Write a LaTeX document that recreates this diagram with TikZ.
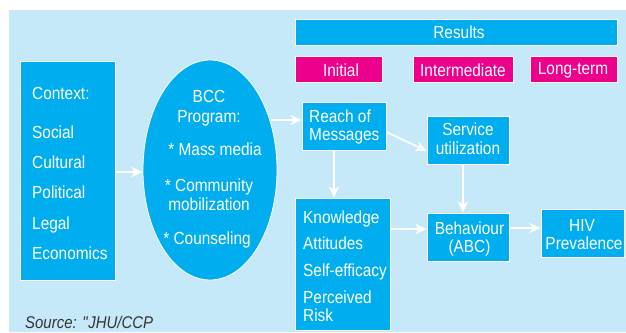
\documentclass[tikz,border=0pt]{standalone}
\usepackage{fontspec}
\setmainfont{Liberation Sans}[FakeStretch=0.88]
\usetikzlibrary{arrows.meta,shapes.geometric}
\definecolor{bgblue}{HTML}{C6E9F9}
\definecolor{boxcyan}{HTML}{00AEEF}
\definecolor{boxmag}{HTML}{EC008C}
\definecolor{srcgray}{HTML}{333333}
\begin{document}
\begin{tikzpicture}[x=1pt,y=-1pt,
  bx/.style={draw=white,line width=0.8pt,fill=boxcyan,inner sep=0pt},
  mg/.style={draw=white,line width=0.8pt,fill=boxmag,inner sep=0pt},
  lbl/.style={text=white,inner sep=0pt,font=\fontsize{17.5}{20}\selectfont},
  arr/.style={draw=white,line width=1.8pt,-{Stealth[length=11pt,width=10pt,inset=3pt]}}]
\useasboundingbox (0,0) rectangle (626,332);
\fill[bgblue] (9,10) rectangle (626,332);
% boxes
\node[bx,minimum width=95pt,minimum height=219pt] (ctx) at (67.5,170.5) {};
\node[bx,ellipse,minimum width=134pt,minimum height=220pt] (bcc) at (210,170) {};
\node[bx,minimum width=322pt,minimum height=26pt] (res) at (456,32) {};
\node[mg,minimum width=87pt,minimum height=26pt] (ini) at (338.5,69) {};
\node[mg,minimum width=100pt,minimum height=26pt] (mid) at (463,69) {};
\node[mg,minimum width=87pt,minimum height=26pt] (lng) at (573.5,69) {};
\node[bx,minimum width=84pt,minimum height=48pt] (reach) at (344,126) {};
\node[bx,minimum width=82pt,minimum height=48pt] (svc) at (468,140) {};
\node[bx,minimum width=95pt,minimum height=132pt] (know) at (342.5,264) {};
\node[bx,minimum width=82pt,minimum height=48pt] (beh) at (468,237) {};
\node[bx,minimum width=83pt,minimum height=48pt] (hiv) at (582.5,233) {};
% texts: context
\node[lbl,anchor=base west] (t1) at (32,99) {Context:};
\node[lbl,anchor=base west] (t2) at (32,138) {Social};
\node[lbl,anchor=base west] (t3) at (32,168) {Cultural};
\node[lbl,anchor=base west] (t4) at (32,198) {Political};
\node[lbl,anchor=base west] (t5) at (32,229) {Legal};
\node[lbl,anchor=base west] (t6) at (32,259) {Economics};
% BCC
\node[lbl,anchor=base] (b1) at (209,102) {BCC};
\node[lbl,anchor=base] (b2) at (209,122) {Program:};
\node[lbl,anchor=base] (b3) at (215,155) {* Mass media};
\node[lbl,anchor=base] (b4) at (209,191) {* Community};
\node[lbl,anchor=base] (b5) at (209,210) {mobilization};
\node[lbl,anchor=base] (b6) at (207,244) {* Counseling};
% results row
\node[lbl,anchor=base] (r1) at (459,38) {Results};
\node[lbl,anchor=base] (r2) at (341,76) {Initial};
\node[lbl,anchor=base] (r3) at (463,76) {Intermediate};
\node[lbl,anchor=base] (r4) at (573,74) {Long-term};
% reach / service
\node[lbl,anchor=base west] (m1) at (309,122) {Reach of};
\node[lbl,anchor=base west] (m2) at (309,140) {Messages};
\node[lbl,anchor=base] (s1) at (468,135) {Service};
\node[lbl,anchor=base] (s2) at (468,154) {utilization};
% knowledge
\node[lbl,anchor=base west] (k1) at (303,223) {Knowledge};
\node[lbl,anchor=base west] (k2) at (303,249) {Attitudes};
\node[lbl,anchor=base west] (k3) at (303,276) {Self-efficacy};
\node[lbl,anchor=base west] (k4) at (303,303) {Perceived};
\node[lbl,anchor=base west] (k5) at (303,321) {Risk};
% behaviour, HIV
\node[lbl,anchor=base] (h1) at (469.5,234) {Behaviour};
\node[lbl,anchor=base] (h2) at (469.5,252) {(ABC)};
\node[lbl,anchor=base] (v1) at (582,231) {HIV};
\node[lbl,anchor=base] (v2) at (584,249) {Prevalence};
% source
\node[inner sep=0pt,anchor=base west,text=srcgray,font=\fontsize{17}{20}\selectfont\itshape] (src) at (25,328) {Source: \XeTeXglyph\the\XeTeXcharglyph"22\relax JHU/CCP};
% arrows
\coordinate (bo) at (271,120);
\draw[arr] (ctx.east |- 0,172) -- (bcc.west |- 0,172);
\draw[arr] (bo) -- (reach.west |- bo);
\draw[arr] (reach.east |- 0,132) -- (svc.west |- 0,151);
\draw[arr] ([xshift=-10pt]reach.south) -- ([xshift=-10pt]reach.south |- know.north);
\draw[arr] ([xshift=-5pt]svc.south) -- ([xshift=-5pt]svc.south |- beh.north);
\draw[arr] (know.east |- 0,229) -- (beh.west |- 0,229);
\draw[arr] (beh.east |- 0,228) -- (hiv.west |- 0,228);
\end{tikzpicture}
\end{document}
